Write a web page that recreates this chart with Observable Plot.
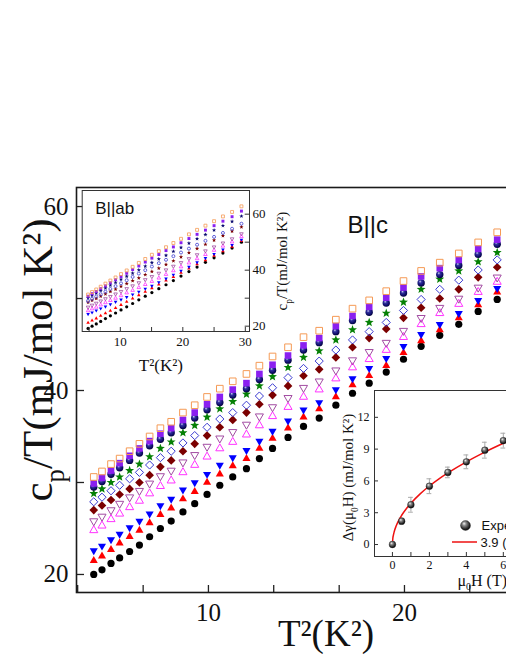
<!DOCTYPE html>
<html><head><meta charset="utf-8">
<script src="https://cdn.jsdelivr.net/npm/d3@7"></script>
<script src="https://cdn.jsdelivr.net/npm/@observablehq/plot@0.6"></script>
<style>
html,body{margin:0;padding:0;background:#fff;overflow:hidden}
#wrap{position:relative;width:506px;height:654px;overflow:hidden;background:#fff}
</style></head><body><div id="wrap"></div>
<script>
// ---------- Main panel (B || c): x = T^2 (K^2), y = cp/T (mJ/mol K^2)
const T2 = [4.15,4.57,5.03,5.47,5.98,6.48,7.0,7.55,8.1,8.7,9.3,9.93,10.58,11.24,11.94,12.6,13.27,14.06,14.85,15.65,16.5,17.35,18.2,19.07,19.95,20.85,21.8,22.77,23.76,24.73];
const cBlack   = [20.0,20.5,21.2,21.8,22.5,23.2,24.1,25.0,25.8,26.8,27.7,28.7,29.7,30.6,31.5,32.6,33.7,34.9,36.1,37.0,38.4,39.7,40.8,42.0,43.4,44.8,46.0,47.2,48.6,49.9];
const cRed     = [21.5,22.0,22.7,23.4,24.1,24.8,25.6,26.5,27.2,28.2,29.0,30.0,30.9,31.8,32.6,33.7,34.8,35.9,37.1,38.0,39.3,40.6,41.6,42.7,44.1,45.4,46.6,47.9,49.3,50.7];
const cBlue    = [22.6,23.1,23.8,24.4,25.1,25.8,26.6,27.5,28.2,29.2,30.0,30.9,31.9,32.7,33.5,34.5,35.6,36.7,37.9,38.7,40.1,41.3,42.4,43.5,44.8,46.1,47.2,48.4,49.8,51.1];
const cMagenta = [24.8,25.3,26.0,26.6,27.3,28.0,28.8,29.6,30.2,31.1,31.9,32.8,33.7,34.4,35.2,36.2,37.2,38.2,39.3,40.1,41.3,42.5,43.4,44.4,45.8,47.2,48.4,49.4,50.7,51.8];
const cPurple  = [25.8,26.3,27.0,27.7,28.4,29.1,29.9,30.7,31.3,32.2,33.0,33.9,34.8,35.5,36.3,37.2,38.2,39.2,40.3,41.0,42.2,43.3,44.2,45.2,46.5,47.9,49.0,50.0,51.2,52.3];
const cMaroon  = [27.0,27.5,28.1,28.7,29.3,30.0,30.8,31.7,32.4,33.4,34.2,35.1,36.0,36.8,37.6,38.5,39.5,40.5,41.6,42.3,43.6,44.7,45.7,46.7,47.9,49.0,50.0,51.0,52.3,53.4];
const cOpenDia = [27.9,28.4,29.1,29.7,30.4,31.1,31.9,32.7,33.4,34.3,35.1,36.0,36.9,37.6,38.4,39.4,40.3,41.4,42.4,43.2,44.4,45.5,46.4,47.4,48.7,49.9,51.0,52.0,53.1,54.2];
const cStar    = [28.8,29.3,30.0,30.6,31.3,32.0,32.8,33.7,34.4,35.4,36.2,37.1,38.0,38.8,39.6,40.5,41.5,42.5,43.6,44.3,45.5,46.6,47.4,48.4,49.6,51.0,52.1,53.0,54.0,55.0];
const cBall    = [29.5,30.1,30.9,31.6,32.4,33.2,34.0,34.7,35.4,36.2,37.0,37.9,38.7,39.5,40.2,41.2,42.2,43.3,44.4,45.2,46.4,47.6,48.5,49.5,50.6,51.7,52.6,53.6,54.8,55.9];
const cViolet  = [29.9,30.5,31.3,32.1,32.9,33.7,34.5,35.3,35.9,36.8,37.6,38.5,39.3,40.1,40.8,41.8,42.8,43.8,44.9,45.7,47.0,48.1,49.1,50.1,51.2,52.4,53.3,54.2,55.4,56.4];
const cOrange  = [30.6,31.2,32.0,32.6,33.4,34.2,35.0,35.9,36.6,37.6,38.4,39.3,40.2,41.0,41.8,42.7,43.7,44.7,45.8,46.5,47.7,48.9,49.8,50.8,51.9,53.0,53.9,54.9,56.1,57.2];
const mainXTicks = [3.33,6.67,10,13.33,16.67,20,23.33,26.67];
const mainXLabels = [10,20];
const mainYTicks = [20,30,40,50,60];
const mainYLabels = [20,40,60];

// ---------- Inset (B || ab)
const T2ab = [4.84,5.48,6.15,6.86,7.62,8.41,9.24,10.11,11.02,11.97,12.96,13.99,15.05,16.16,17.31,18.49,19.71,20.98,22.28,23.62,25.0,26.42,27.88,29.38];
const abBlack   = [19.2,20.0,20.8,21.7,22.7,23.7,24.7,25.8,26.9,28.1,29.4,30.7,32.0,33.4,34.8,36.3,37.9,39.5,41.1,42.8,44.4,46.1,47.9,50.0];
const abRed     = [21.2,22.0,22.8,23.7,24.6,25.5,26.5,27.6,28.7,29.9,31.1,32.3,33.6,34.9,36.3,37.6,39.1,40.6,42.1,43.6,45.2,46.8,48.4,50.4];
const abBlue    = [24.3,24.9,25.6,26.3,27.0,27.8,28.7,29.5,30.4,31.3,32.3,33.4,34.4,35.7,37.0,38.4,39.8,41.2,42.8,44.3,45.8,47.4,49.0,50.9];
const abMagenta = [25.5,26.2,26.8,27.6,28.4,29.2,30.0,30.9,31.9,32.8,33.8,34.9,36.0,37.2,38.5,39.8,41.2,42.6,44.1,45.6,47.1,48.6,50.1,52.0];
const abPurple  = [26.8,27.5,28.2,29.0,29.8,30.6,31.5,32.4,33.4,34.4,35.5,36.6,37.7,38.9,40.1,41.4,42.7,44.1,45.5,46.9,48.3,49.7,51.2,53.0];
const abMaroon  = [28.5,29.2,29.9,30.7,31.5,32.4,33.2,34.2,35.2,36.2,37.2,38.4,39.5,40.7,42.0,43.3,44.7,46.2,47.7,49.2,50.7,52.3,53.9,55.4];
const abOpenCir = [29.0,29.8,30.6,31.4,32.3,33.3,34.3,35.3,36.4,37.6,38.8,40.0,41.3,42.5,43.7,45.0,46.3,47.7,49.1,50.5,51.9,53.3,54.8,56.6];
const abNavy    = [30.2,31.0,31.8,32.7,33.6,34.6,35.6,36.7,37.8,38.9,40.1,41.4,42.7,44.0,45.3,46.7,48.1,49.6,51.2,52.7,54.3,55.9,57.4,59.3];
const abViolet  = [30.7,31.6,32.4,33.4,34.4,35.5,36.6,37.7,38.9,40.2,41.5,42.9,44.3,45.6,47.0,48.3,49.8,51.3,52.8,54.3,55.9,57.5,59.1,61.1];
const abOrange  = [31.3,32.2,33.1,34.1,35.2,36.3,37.4,38.6,39.9,41.2,42.6,44.0,45.5,46.8,48.2,49.7,51.2,52.8,54.4,55.9,57.5,59.2,60.8,62.8];
const abXTicks = [5,10,15,20,25,30];
const abXLabels = [10,20,30];
const abYTicks = [20,30,40,50,60];
const abYLabels = [20,40,60];

// ---------- Inset: delta gamma vs field
const fieldH = [0,0.5,1,2,3,4,5,6];
const dGamma = [0,2.2,3.75,5.5,6.8,7.8,8.9,9.8];
const dGammaErr = [0,0.3,0.7,0.7,0.5,0.65,0.75,0.7];
const fitH = [0,0.02,0.05,0.1,0.2,0.3,0.5,0.75,1,1.5,2,2.5,3,4,5,6,7,8,9,10];
const fitV = [0,0.55,0.87,1.23,1.74,2.14,2.76,3.38,3.9,4.78,5.52,6.17,6.75,7.8,8.72,9.55,10.32,11.03,11.7,12.33];
const hXTicks = [0,1,2,3,4,5,6,7,8,9,10];
const hXLabels = [0,2,4,6,8,10];
const hYTicks = [0,3,6,9,12];
const hYLabels = [0,3,6,9,12];

// ---------- helpers
const serif = "Liberation Serif, Times New Roman, serif";
const sans = "Liberation Sans, Arial, sans-serif";
const rOf = s => Math.sqrt(s / Math.PI);
const triUp = {draw(c, s){const a=rOf(s)*1.12, h=a*Math.sqrt(3); c.moveTo(0,-h*2/3); c.lineTo(a,h/3); c.lineTo(-a,h/3); c.closePath();}};
const triDown = {draw(c, s){const a=rOf(s)*1.12, h=a*Math.sqrt(3); c.moveTo(0,h*2/3); c.lineTo(a,-h/3); c.lineTo(-a,-h/3); c.closePath();}};
const diamond = {draw(c, s){const d=rOf(s)*1.2; c.moveTo(0,-d); c.lineTo(d,0); c.lineTo(0,d); c.lineTo(-d,0); c.closePath();}};
const square = {draw(c, s){const q=rOf(s)*0.92; c.moveTo(-q,-q); c.lineTo(q,-q); c.lineTo(q,q); c.lineTo(-q,q); c.closePath();}};
const star = {draw(c, s){const R=rOf(s)*1.3, ri=R*0.42; for(let k=0;k<10;k++){const an=-Math.PI/2+k*Math.PI/5, rr=k%2?ri:R; const x=rr*Math.cos(an), y=rr*Math.sin(an); if(k) c.lineTo(x,y); else c.moveTo(x,y);} c.closePath();}};

const rows = (xs, ys) => xs.map((x, i) => ({x, y: ys[i]}));
function dots(xs, ys, symbol, fill, stroke, r, sw) {
  return Plot.dot(rows(xs, ys), {x: "x", y: "y", r, symbol, fill: fill || "none", stroke: stroke || "none", strokeWidth: sw});
}
function rich(svg, full, parts, fs) {
  d3.select(svg).selectAll("text").filter(function(){ return this.textContent === full; }).each(function(){
    const t = d3.select(this); t.text(null);
    for (const [str, kind] of parts) {
      const ts = t.append("tspan").text(str);
      if (kind === "sub") ts.attr("dy", (fs*0.28).toFixed(1)).attr("font-size", (fs*0.62).toFixed(1));
      if (kind === "back") ts.attr("dy", (-fs*0.28).toFixed(1));
    }
  });
}
const transparent = {background: "transparent", maxWidth: "none", overflow: "visible", position: "absolute", left: "0px", top: "0px"};
const H = 654;

// ---------- main plot
const main = Plot.plot({
  width: 552, height: H, marginLeft: 76, marginRight: 1, marginTop: 187, marginBottom: 62,
  x: {domain: [3.27, 27.5], axis: null}, y: {domain: [18.04, 62.07], axis: null},
  style: transparent,
  marks: [
    dots(T2, cBlack, "circle", "#000", null, 3.6, 1),
    dots(T2, cRed, triUp, "#ff0000", null, 3.6, 1),
    dots(T2, cBlue, triDown, "#0000ff", null, 3.6, 1),
    dots(T2, cMagenta, triUp, null, "#ff33ff", 3.6, 1),
    dots(T2, cPurple, triDown, null, "#a24ca2", 3.6, 1),
    dots(T2, cMaroon, diamond, "#7b0000", null, 3.6, 1),
    dots(T2, cOpenDia, diamond, null, "#3b3bd1", 3.4, 1),
    dots(T2, cStar, star, "#058005", null, 3.6, 1),
    dots(T2, cBall, "circle", "url(#gNavy)", null, 3.7, 1),
    dots(T2, cViolet, square, "#8a1ff0", null, 3.6, 1),
    dots(T2, cOrange, square, null, "#f59a55", 3.6, 1),
    Plot.tickX(mainXTicks, {x: d => d, insetTop: 398, stroke: "#222", strokeWidth: 1.3}),
    Plot.tickY(mainYTicks, {y: d => d, insetRight: 467, stroke: "#222", strokeWidth: 1.3}),
    Plot.frame({stroke: "#1a1a1a", strokeWidth: 1.6}),
    Plot.text(mainXLabels, {x: d => d, text: d => String(d), frameAnchor: "bottom", lineAnchor: "bottom", dy: 28, fontSize: 25, fontFamily: serif, fill: "#111"}),
    Plot.text(mainYLabels, {y: d => d, text: d => String(d), frameAnchor: "left", textAnchor: "end", lineAnchor: "middle", dx: -8, fontSize: 25, fontFamily: serif, fill: "#111"}),
    Plot.text(["T²(K²)"], {text: d => d, frameAnchor: "bottom", lineAnchor: "bottom", dx: 12, dy: 53, fontSize: 37, fontFamily: serif, fill: "#111"}),
    Plot.text(["cp/T(mJ/mol K²)"], {text: d => d, frameAnchor: "left", textAnchor: "middle", rotate: -90, lineAnchor: "middle", dx: -38, dy: -30, fontSize: 43, fontFamily: serif, fill: "#111"}),
    Plot.text(["B||c"], {text: d => d, frameAnchor: "top-left", textAnchor: "start", lineAnchor: "bottom", dx: 271, dy: 45, fontSize: 24, fontFamily: sans, fill: "#111"})
  ]
});
rich(main, "cp/T(mJ/mol K²)", [["c"], ["p", "sub"], ["/T(mJ/mol K²)", "back"]], 43);
d3.select(main).insert("defs", ":first-child").html(
  '<radialGradient id="gNavy" cx="0.45" cy="0.4" r="0.65" fx="0.35" fy="0.3">' +
  '<stop offset="0" stop-color="#d0d0f0"/><stop offset="0.3" stop-color="#3030a0"/><stop offset="0.75" stop-color="#0a0a60"/><stop offset="1" stop-color="#000030"/></radialGradient>' +
  '<radialGradient id="gGrey" cx="0.45" cy="0.4" r="0.65" fx="0.35" fy="0.3">' +
  '<stop offset="0" stop-color="#f4f4f4"/><stop offset="0.3" stop-color="#888"/><stop offset="0.75" stop-color="#222"/><stop offset="1" stop-color="#000"/></radialGradient>');

// ---------- inset B || ab
const inset1 = Plot.plot({
  width: 300, height: H, marginLeft: 81.7, marginRight: 51, marginTop: 190, marginBottom: 323,
  x: {domain: [3.9, 30.67], axis: null}, y: {domain: [18.1, 68.46], axis: null},
  style: transparent,
  marks: [
    Plot.frame({fill: "white", stroke: "none"}),
    dots(T2ab, abBlack, "circle", "#000", null, 1.6, 0.8),
    dots(T2ab, abRed, triUp, "#ff0000", null, 1.6, 0.8),
    dots(T2ab, abBlue, triDown, "#0000ff", null, 1.6, 0.8),
    dots(T2ab, abMagenta, triUp, null, "#ff33ff", 1.6, 0.8),
    dots(T2ab, abPurple, triDown, null, "#a24ca2", 1.6, 0.8),
    dots(T2ab, abMaroon, star, "#7b0000", null, 1.7, 0.8),
    dots(T2ab, abOpenCir, "circle", null, "#3b3bd1", 1.5, 0.8),
    dots(T2ab, abNavy, star, "#0a0a70", null, 1.7, 0.8),
    dots(T2ab, abViolet, square, "#8a1ff0", null, 1.6, 0.8),
    dots(T2ab, abOrange, square, null, "#f59a55", 1.6, 0.8),
    Plot.tickX(abXTicks, {x: d => d, insetTop: 137, stroke: "#333", strokeWidth: 1}),
    Plot.tickY(abYTicks, {y: d => d, insetLeft: 163, stroke: "#333", strokeWidth: 1}),
    Plot.frame({stroke: "#333", strokeWidth: 1}),
    Plot.text(abXLabels, {x: d => d, text: d => String(d), frameAnchor: "bottom", lineAnchor: "bottom", dy: 14, fontSize: 13, fontFamily: serif, fill: "#111"}),
    Plot.text(abYLabels, {y: d => d, text: d => String(d), frameAnchor: "right", textAnchor: "start", lineAnchor: "middle", dx: 3, fontSize: 13, fontFamily: serif, fill: "#111"}),
    Plot.text(["cp/T(mJ/mol K²)"], {text: d => d, frameAnchor: "right", textAnchor: "middle", rotate: -90, lineAnchor: "middle", dx: 33, fontSize: 15, fontFamily: serif, fill: "#111"}),
    Plot.text(["T²(K²)"], {text: d => d, frameAnchor: "bottom", lineAnchor: "bottom", dx: -5, dy: 39, fontSize: 17, fontFamily: serif, fill: "#111"}),
    Plot.text(["B||ab"], {text: d => d, frameAnchor: "top-left", textAnchor: "start", lineAnchor: "bottom", dx: 13, dy: 23, fontSize: 17, fontFamily: sans, fill: "#111"})
  ]
});
rich(inset1, "cp/T(mJ/mol K²)", [["c"], ["p", "sub"], ["/T(mJ/mol K²)", "back"]], 15);

// ---------- inset delta gamma
const dg = fieldH.map((h, i) => ({h, v: dGamma[i], e: dGammaErr[i]}));
const fit = fitH.map((h, i) => ({h, v: fitV[i]}));
const inset2 = Plot.plot({
  width: 600, height: H, marginLeft: 374, marginRight: 14, marginTop: 390, marginBottom: 98,
  x: {domain: [-0.97, 10.5], axis: null}, y: {domain: [-1.13, 14.53], axis: null},
  style: transparent,
  marks: [
    Plot.frame({fill: "white", stroke: "none"}),
    Plot.ruleX(dg.filter(d => d.e > 0), {x: "h", y1: d => d.v - d.e, y2: d => d.v + d.e, stroke: "#aaa", strokeWidth: 1}),
    Plot.ruleY(dg.filter(d => d.e > 0), {y: d => d.v + d.e, x1: d => d.h - 0.13, x2: d => d.h + 0.13, stroke: "#aaa", strokeWidth: 1}),
    Plot.ruleY(dg.filter(d => d.e > 0), {y: d => d.v - d.e, x1: d => d.h - 0.13, x2: d => d.h + 0.13, stroke: "#aaa", strokeWidth: 1}),
    Plot.line(fit, {x: "h", y: "v", stroke: "#ee1111", strokeWidth: 1.5, curve: "monotone-x"}),
    Plot.dot(dg, {x: "h", y: "v", r: 3.4, fill: "url(#gGrey)", stroke: "#111", strokeWidth: 0.3}),
    Plot.tickX(hXTicks, {x: d => d, insetTop: 162, stroke: "#333", strokeWidth: 1}),
    Plot.tickY(hYTicks, {y: d => d, insetRight: 208, stroke: "#333", strokeWidth: 1}),
    Plot.frame({stroke: "#333", strokeWidth: 1}),
    Plot.text(hXLabels, {x: d => d, text: d => String(d), frameAnchor: "bottom", lineAnchor: "bottom", dy: 12, fontSize: 12, fontFamily: serif, fill: "#111"}),
    Plot.text(hYLabels, {y: d => d, text: d => String(d), frameAnchor: "left", textAnchor: "end", lineAnchor: "middle", dx: -5, fontSize: 12, fontFamily: serif, fill: "#111"}),
    Plot.text(["Δγ(μ0H) (mJ/mol K²)"], {text: d => d, frameAnchor: "left", textAnchor: "middle", rotate: -90, lineAnchor: "middle", dx: -26, dy: 4, fontSize: 15, fontFamily: serif, fill: "#111"}),
    Plot.text(["μ0H (T)"], {text: d => d, frameAnchor: "bottom-left", textAnchor: "start", lineAnchor: "bottom", dx: 83, dy: 29, fontSize: 16, fontFamily: serif, fill: "#111"}),
    Plot.dot(["Experimental"], {frameAnchor: "bottom-left", dx: 91, dy: -31, r: 5, fill: "url(#gGrey)", stroke: "#111", strokeWidth: 0.3}),
    Plot.text(["Experimental"], {text: d => d, frameAnchor: "bottom-left", textAnchor: "start", lineAnchor: "middle", dx: 107, dy: -31, fontSize: 13, fontFamily: sans, fill: "#111"}),
    Plot.text(["3.9 (μ0H)^0.5"], {text: d => d, frameAnchor: "bottom-left", textAnchor: "start", lineAnchor: "middle", dx: 106, dy: -14, fontSize: 13, fontFamily: sans, fill: "#111"})
  ]
});
rich(inset2, "Δγ(μ0H) (mJ/mol K²)", [["Δγ(μ"], ["0", "sub"], ["H) (mJ/mol K²)", "back"]], 15);
rich(inset2, "μ0H (T)", [["μ"], ["0", "sub"], ["H (T)", "back"]], 16);
d3.select(inset2).append("line").attr("x1", 452).attr("x2", 477).attr("y1", 542).attr("y2", 542).attr("stroke", "#ee1111").attr("stroke-width", 1.5);

const wrap = document.getElementById("wrap");
[main, inset1, inset2].forEach(s => wrap.appendChild(s));
</script></body></html>
